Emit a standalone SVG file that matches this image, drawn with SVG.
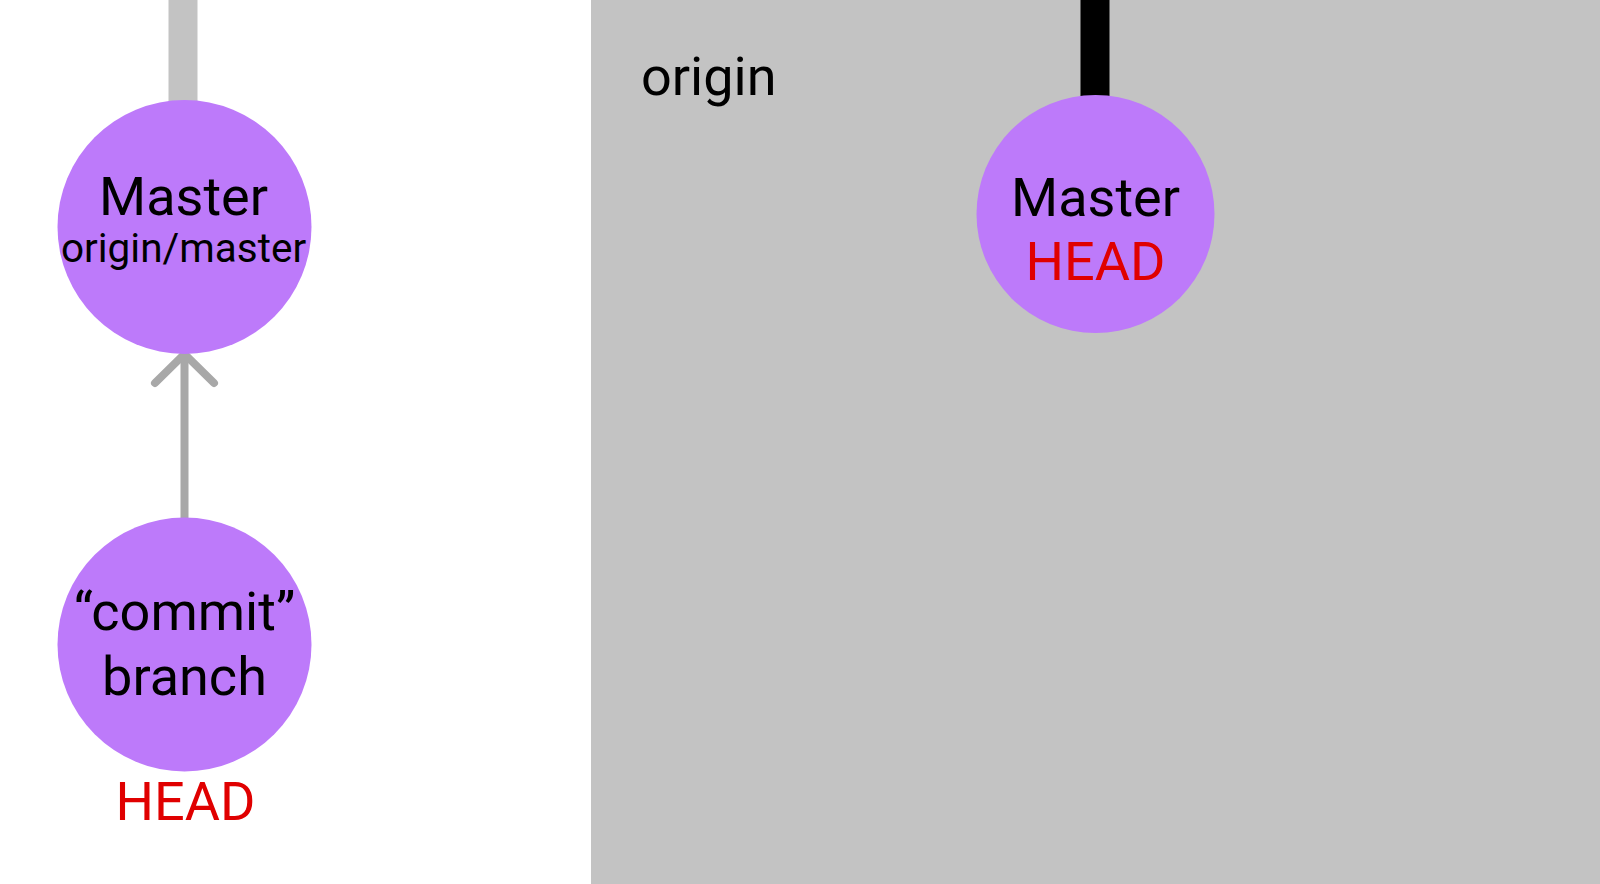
<svg xmlns="http://www.w3.org/2000/svg" width="1600" height="884" viewBox="0 0 1600 884">
<style>
.node{fill:#bd7afa}
.t{font-family:Roboto,"Liberation Sans",sans-serif;text-anchor:middle;fill:#000}
.big{font-size:54px}
.small{font-size:40.5px}
.red{fill:#e00000}
</style>
<rect x="0" y="0" width="1600" height="884" fill="#ffffff"/>
<rect id="origin-area" x="591" y="0" width="1009" height="884" fill="#c3c3c3"/>
<text class="t big" x="641" y="95" style="text-anchor:start">origin</text>
<g id="connectors">
<rect x="168.5" y="0" width="29" height="104" fill="#c3c3c3"/>
<rect x="1080.5" y="0" width="29" height="100" fill="#000000"/>
<line x1="184.5" y1="518" x2="184.5" y2="356" stroke="#a8a8a8" stroke-width="8"/>
<polyline points="155,383 184.5,354 214,383" fill="none" stroke="#a8a8a8" stroke-width="8" stroke-linecap="round" stroke-linejoin="round"/>
</g>
<g id="node-master-local">
<circle class="node" cx="184.5" cy="227" r="127"/>
<text class="t big" x="183.5" y="215">Master</text>
<text class="t small" x="183.5" y="262">origin/master</text>
</g>
<g id="node-commit-branch">
<circle class="node" cx="184.5" cy="644.5" r="127"/>
<text class="t big" x="184.5" y="630">“commit”</text>
<text class="t big" x="184.5" y="695">branch</text>
<text class="t big red" x="185.5" y="820">HEAD</text>
</g>
<g id="node-master-origin">
<circle class="node" cx="1095.5" cy="214" r="119"/>
<text class="t big" x="1095.5" y="216">Master</text>
<text class="t big red" x="1095.5" y="280">HEAD</text>
</g>
</svg>
